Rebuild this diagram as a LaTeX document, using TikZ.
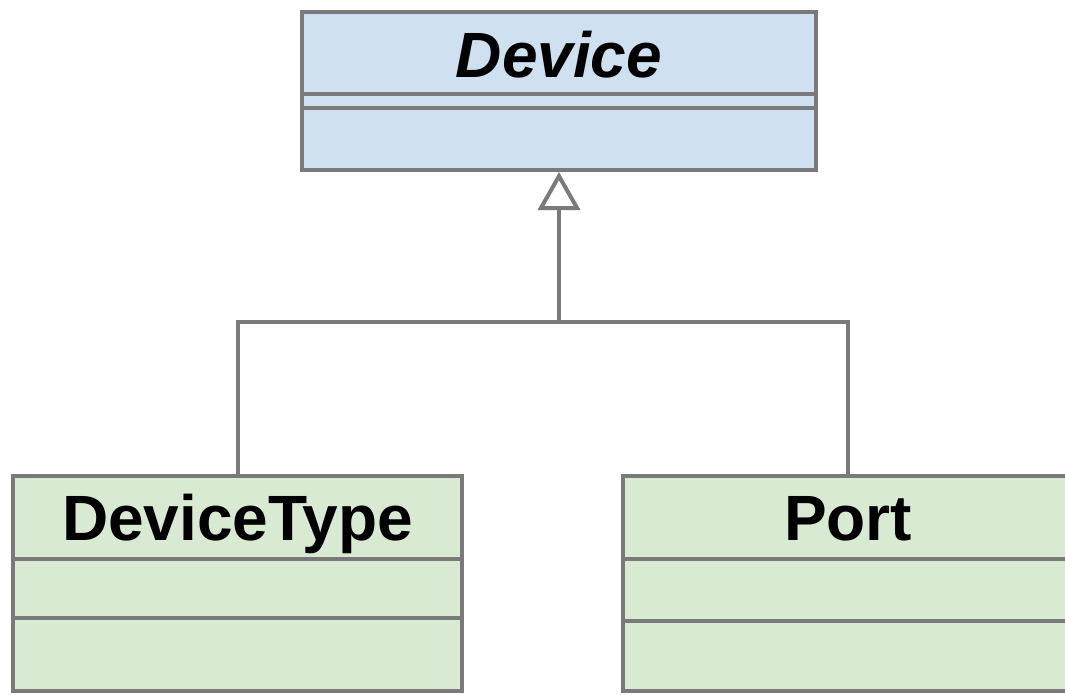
\documentclass[tikz,border=0pt]{standalone}
\usepackage{fontspec}
\setmainfont{Liberation Sans}
\usetikzlibrary{arrows.meta}
\definecolor{strokegray}{RGB}{122,122,122}
\definecolor{bluefill}{RGB}{207,224,241}
\definecolor{greenfill}{RGB}{217,234,211}
\tikzset{
  classbox/.style={draw=strokegray, line width=4pt, rectangle, inner sep=0pt},
  abstractbox/.style={classbox, fill=bluefill},
  concretebox/.style={classbox, fill=greenfill},
  divider/.style={draw=strokegray, line width=4pt},
  classname/.style={anchor=base, inner sep=0pt, font=\fontsize{64}{70}\selectfont\bfseries},
  connector/.style={draw=strokegray, line width=4pt},
}
\begin{document}
\begin{tikzpicture}[x=1pt, y=-1pt]
  \useasboundingbox (0,0) rectangle (1065,694);
  \clip (0,0) rectangle (1065,694);

  % abstract superclass
  \node[abstractbox, minimum width=514pt, minimum height=158pt] (device) at (559,91) {};
  \node[classname] (devicename) at (559,77) {\textit{Device}};
  \draw[divider] (device.west |- 0,94) -- (device.east |- 0,94);
  \draw[divider] (device.west |- 0,108) -- (device.east |- 0,108);

  % subclasses
  \node[concretebox, minimum width=449pt, minimum height=215pt] (devicetype) at (237.5,583.5) {};
  \node[classname] (devicetypename) at (237.5,540) {DeviceType};
  \draw[divider] (devicetype.west |- 0,559) -- (devicetype.east |- 0,559);
  \draw[divider] (devicetype.west |- 0,618) -- (devicetype.east |- 0,618);

  \node[concretebox, minimum width=450pt, minimum height=215pt] (port) at (848,583.5) {};
  \node[classname] (portname) at (848,540) {Port};
  \draw[divider] (port.west |- 0,559) -- (port.east |- 0,559);
  \draw[divider] (port.west |- 0,621) -- (port.east |- 0,621);

  % generalization
  \coordinate (junction) at (559,322);
  \draw[connector] (devicetype.north) |- (junction) -| (port.north);
  \draw[connector, -{Triangle[open, length=38pt, width=42pt, line width=4pt]}]
    (junction) -- (device.south);
\end{tikzpicture}
\end{document}
